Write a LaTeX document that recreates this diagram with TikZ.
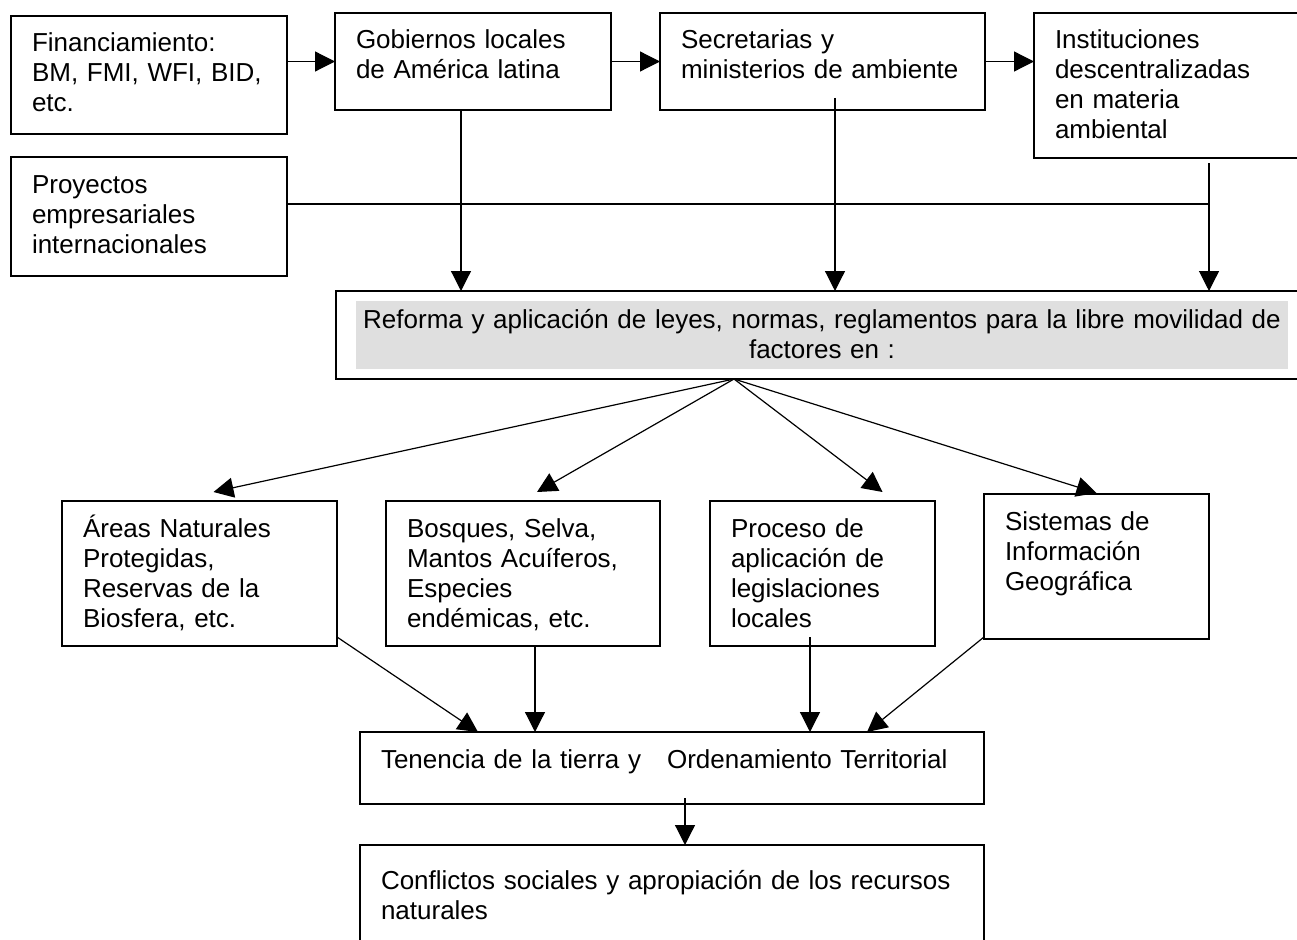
\documentclass[tikz,border=0pt]{standalone}
\usepackage{fontspec}
\setmainfont{Liberation Sans}
\usepackage{tikz}
\usetikzlibrary{arrows.meta}
\tikzstyle{box} = [rectangle, draw, line width=1.2pt, anchor=north west, align=left, inner xsep=21pt, inner ysep=0pt, outer sep=0pt, text height=36pt]
\tikzstyle{hub} = [box, align=center, inner xsep=20pt, text height=37.5pt, path picture={\fill[gray!25] ([xshift=20pt,yshift=-10pt]path picture bounding box.north west) rectangle ([xshift=-20pt,yshift=10pt]path picture bounding box.south east);}]
\tikzstyle{arrow} = [-{Triangle[length=20pt,width=20pt]}, line width=1.2pt]

\begin{document}
\begin{tikzpicture}[x=1pt, y=-1pt, every node/.style={font=\fontsize{26pt}{30pt}\selectfont}]
\path[use as bounding box, fill=white] (0,0) rectangle (1297,939);

% First row - left to right
\node[box, text width=234pt, text depth=82pt] (fin) at (11,16) {Financiamiento:\\BM, FMI, WFI, BID,\\etc.};
\node[box, text width=234pt, text depth=61pt] (gobiernos) at ([xshift=48pt,yshift=3pt]fin.north east) {Gobiernos locales\\de América latina};
\node[box, text width=283pt, text depth=61pt] (secretarias) at ([xshift=49pt]gobiernos.north east) {Secretarias y\\ministerios de ambiente};
\node[box, text width=228pt, text depth=109pt] (instituciones) at ([xshift=49pt]secretarias.north east) {Instituciones\\descentralizadas\\en materia\\ambiental};
\node[box, text width=234pt, text depth=83pt] (proyectos) at ([yshift=-23pt]fin.south west) {Proyectos\\empresariales\\internacionales};

% Central box
\node[hub, text width=932pt, text depth=50.5pt] (reforma) at (336,291) {Reforma y aplicación de leyes, normas, reglamentos para la libre movilidad de\\factores en :};

% Second row
\node[box, text width=233pt, text depth=109pt] (areas) at (62,501) {Áreas Naturales\\Protegidas,\\Reservas de la\\Biosfera, etc.};
\node[box, text width=232pt, text depth=109pt] (bosques) at ([xshift=49pt]areas.north east) {Bosques, Selva,\\Mantos Acuíferos,\\Especies\\endémicas, etc.};
\node[box, text width=183pt, text depth=109pt] (proceso) at ([xshift=50pt]bosques.north east) {Proceso de\\aplicación de\\legislaciones\\locales};
\node[box, text width=183pt, text depth=109pt] (sistemas) at ([xshift=49pt,yshift=7pt]proceso.north east) {Sistemas de\\Información\\Geográfica};

% Bottom boxes
\node[box, text width=582pt, text depth=36pt] (tenencia) at (360,732) {Tenencia de la tierra y~~~Ordenamiento Territorial};
\node[box, text width=582pt, text height=44pt, text depth=66pt] (conflictos) at ([yshift=-41pt]tenencia.south west) {Conflictos sociales y apropiación de los recursos\\naturales};

% First row arrows
\draw[arrow] (gobiernos.west -| fin.east) -- (gobiernos.west);
\draw[arrow] (gobiernos) -- (secretarias);
\draw[arrow] (secretarias.east) -- (secretarias.east -| instituciones.west);

% Down to the central box
\coordinate (junction) at ([xshift=175pt]instituciones.south west);
\draw[arrow] ([xshift=-12pt]gobiernos.south) -- ([xshift=-12pt]gobiernos.south |- reforma.north);
\draw[arrow] ([xshift=12.5pt,yshift=12pt]secretarias.south) -- ([xshift=12.5pt]secretarias.south |- reforma.north);
\draw[arrow] ([yshift=-5pt]junction) -- (junction |- reforma.north);
\draw[line width=1.2pt] ([yshift=12.5pt]proyectos.east) -- ([yshift=12.5pt]proyectos.east -| junction);

% Fan out
\draw[arrow] ([xshift=-88pt]reforma.south) -- ([xshift=14pt,yshift=9pt]areas.north);
\draw[arrow] ([xshift=-88pt]reforma.south) -- ([xshift=14pt,yshift=9pt]bosques.north);
\draw[arrow] ([xshift=-88pt]reforma.south) -- ([xshift=60pt,yshift=9pt]proceso.north);
\draw[arrow] ([xshift=-88pt]reforma.south) -- ([yshift=1pt]sistemas.north);

% Into tenencia
\draw[arrow] ([yshift=9pt]areas.south east) -- ([xshift=118pt]tenencia.north west);
\draw[arrow] ([xshift=12pt]bosques.south) -- ([xshift=12pt]bosques.south |- tenencia.north);
\draw[arrow] ([xshift=-12.5pt,yshift=9pt]proceso.south) -- ([xshift=-12.5pt]proceso.south |- tenencia.north);
\draw[arrow] ([yshift=2pt]sistemas.south west) -- ([xshift=-117pt]tenencia.north east);
\draw[arrow] ([xshift=13pt,yshift=6pt]tenencia.south) -- ([xshift=13pt]tenencia.south |- conflictos.north);

\end{tikzpicture}
\end{document}
